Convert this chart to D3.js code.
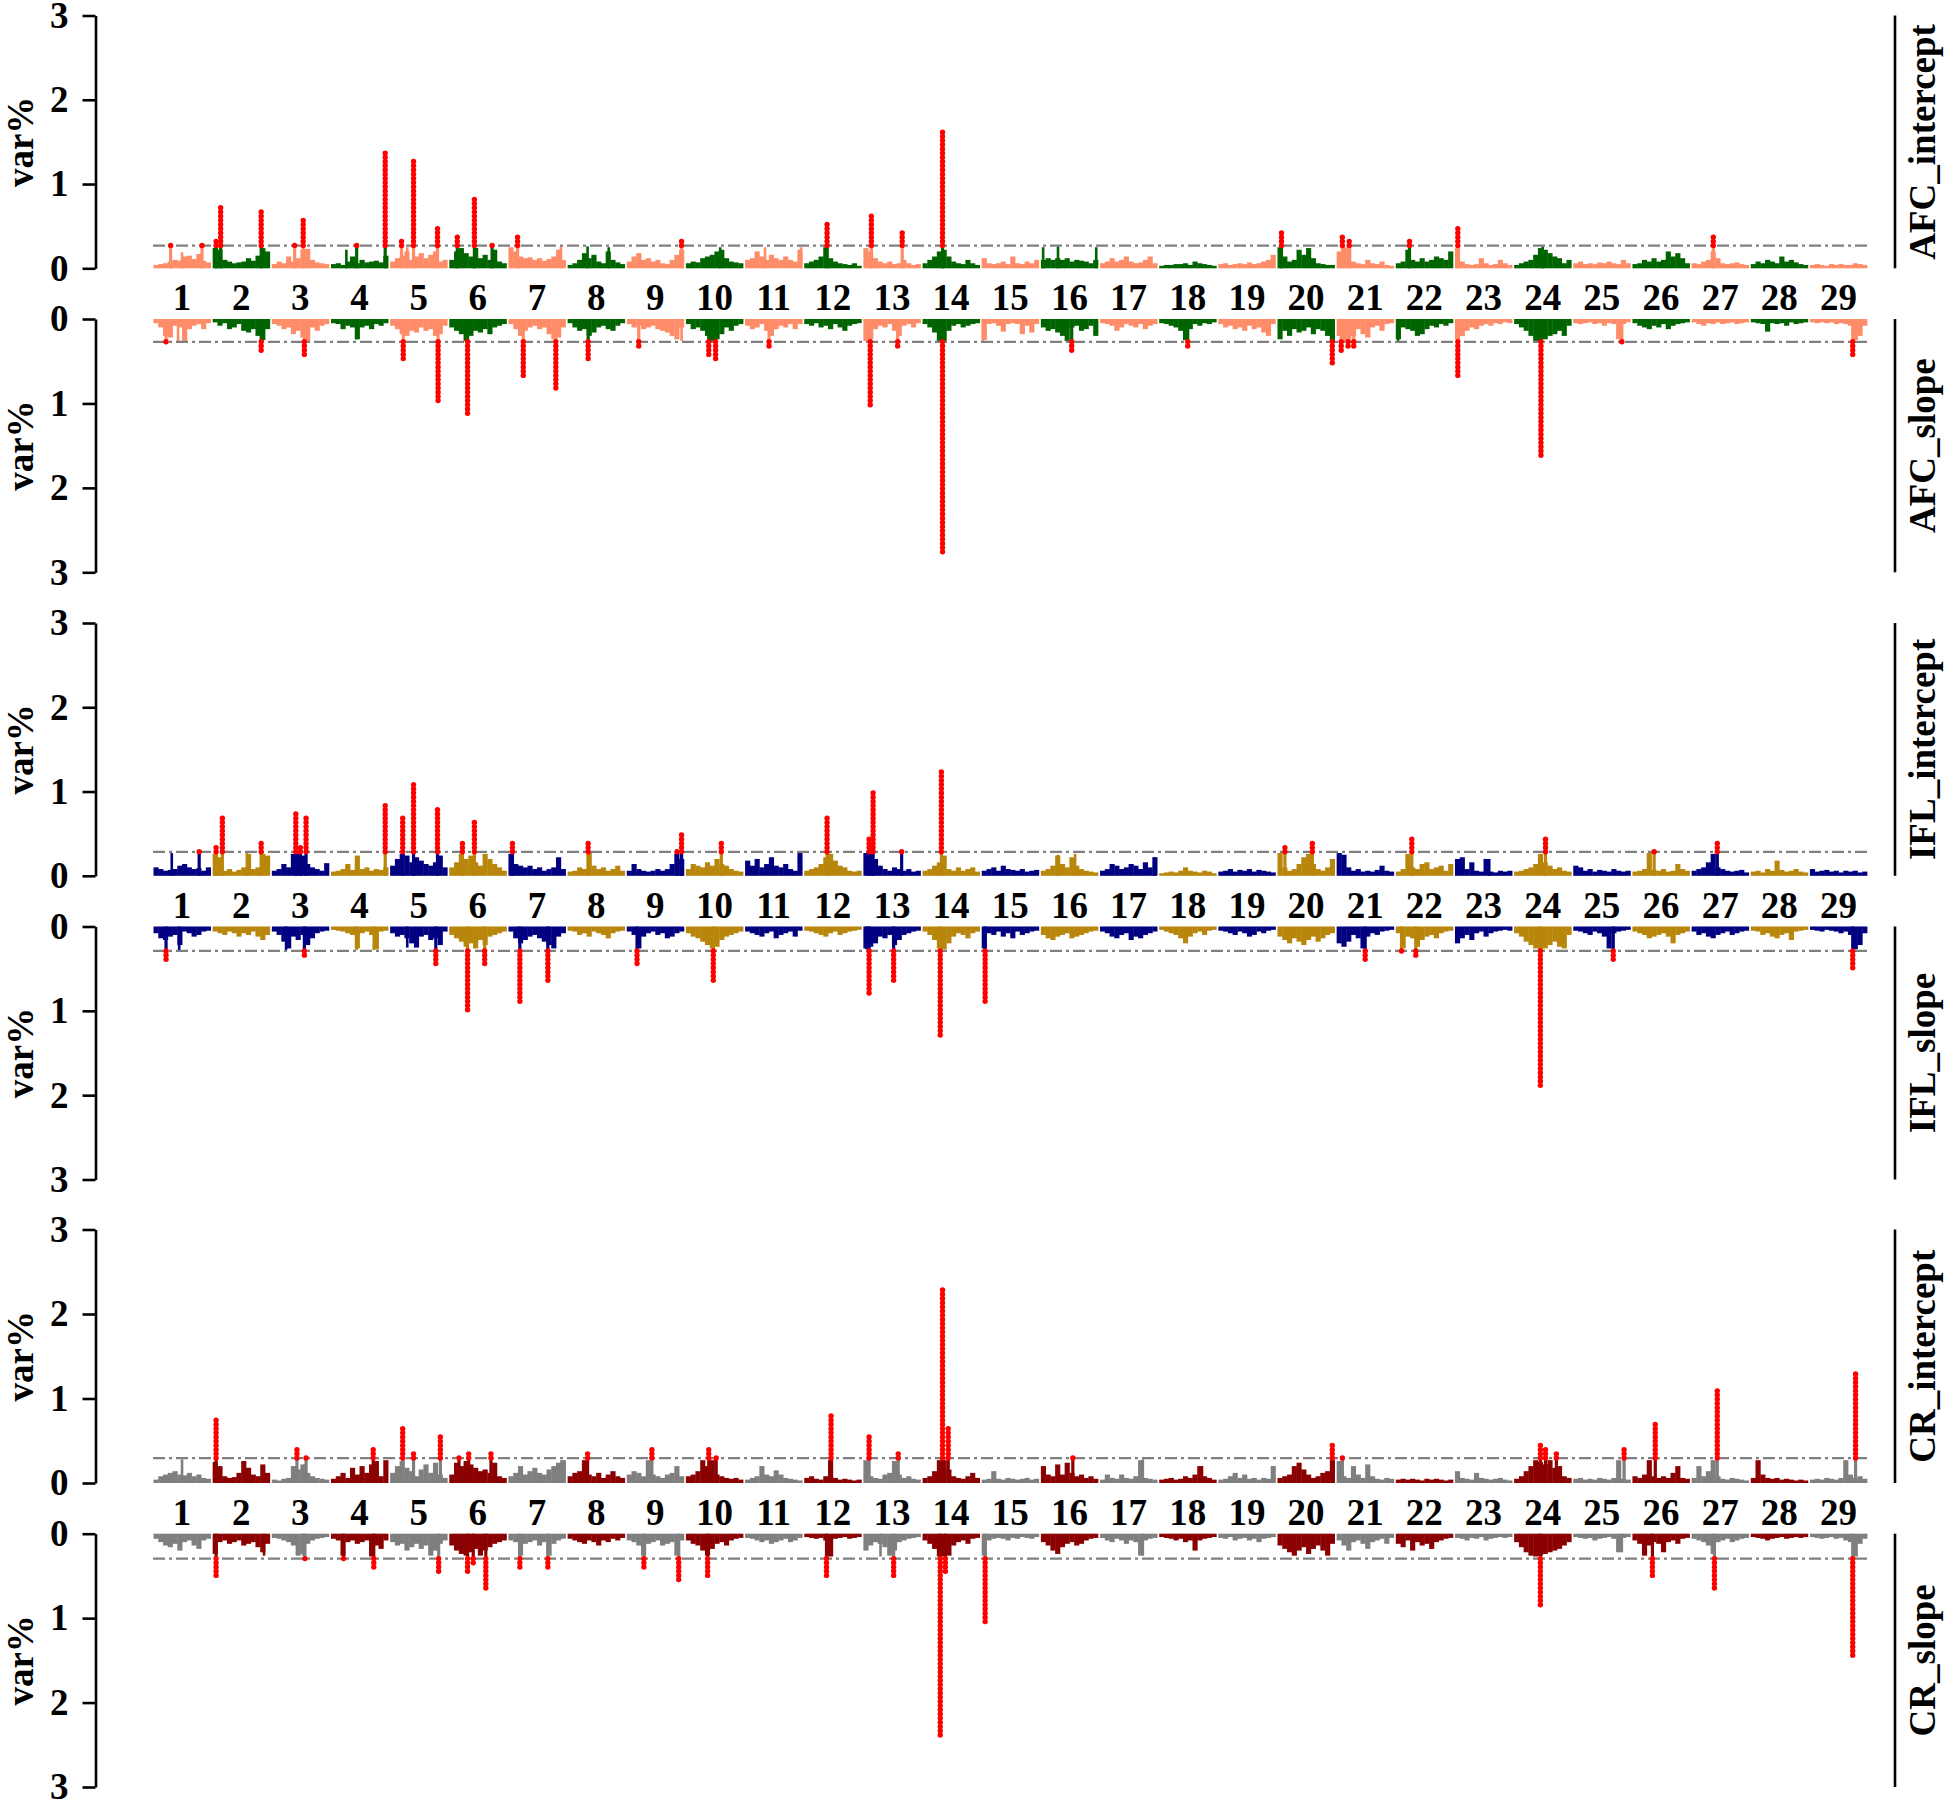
<!DOCTYPE html>
<html><head><meta charset="utf-8">
<script src="https://cdn.jsdelivr.net/npm/d3@7"></script>
<style>
body{margin:0;background:#fff}
text{font-family:"Liberation Serif","Times New Roman",serif;font-weight:bold;fill:#000}
</style></head>
<body><svg id="c" width="1946" height="1802"></svg>
<script>
// ---------------- DATA ----------------
const chromosomes = ["1","2","3","4","5","6","7","8","9","10","11","12","13","14","15","16","17","18","19","20","21","22","23","24","25","26","27","28","29"];
const yTicks = [0,1,2,3];
const panelNames = ["AFC_intercept","AFC_slope","IFL_intercept","IFL_slope","CR_intercept","CR_slope"];
const thresholds = [0.27,0.27,0.285,0.29,0.295,0.295];
const oddColors  = ["#FF8C69","#FF8C69","#000080","#000080","#7F7F7F","#7F7F7F"];
const evenColors = ["#006400","#006400","#B8860B","#B8860B","#8B0000","#8B0000"];

// window profiles per chromosome (12 windows each), var% in hundredths
const afcInterceptProfile = [
[4,5,6,8,10,9,14,15,11,17,9,7],[24,22,10,8,6,7,8,12,9,15,24,20],[5,8,6,14,8,12,22,23,10,7,6,5],[5,6,4,8,14,6,10,7,8,9,7,15],
[8,12,15,20,10,14,18,12,16,20,8,10],[10,20,24,18,14,24,12,16,10,22,8,6],[25,20,14,12,13,10,12,9,11,14,22,10],[4,6,10,18,12,16,8,6,20,10,7,5],
[8,14,18,10,12,8,10,6,5,10,16,22],[6,8,7,12,14,16,20,22,12,8,7,6],[10,12,20,14,10,16,12,10,14,10,8,22],[6,8,10,14,25,12,8,6,5,4,6,3],
[24,20,12,8,6,8,5,6,10,6,4,5],[6,10,14,20,22,14,8,6,5,10,6,4],[12,6,5,6,8,5,14,6,5,8,6,10],[10,12,10,12,10,12,8,10,9,8,6,10],
[6,8,12,8,10,14,8,6,7,10,14,6],[3,4,4,5,5,6,4,8,6,5,4,3],[5,6,4,5,6,5,7,5,6,8,10,16],[25,14,8,10,22,16,24,12,6,5,4,4],
[20,25,24,8,6,5,10,6,5,8,4,3],[6,8,22,10,8,12,8,10,14,12,10,20],[24,8,5,4,5,12,6,4,5,10,6,4],[4,6,8,10,16,24,22,18,14,12,6,10],
[6,8,5,6,5,7,6,8,6,5,10,6],[5,6,10,8,12,8,10,20,14,18,12,6],[6,5,8,10,20,12,6,5,6,7,5,4],[5,8,6,10,8,6,14,8,10,7,5,4],[4,5,4,3,5,4,5,4,4,6,5,4]];
const afcSlopeProfile = [
[5,10,20,22,8,10,26,12,8,6,12,5],[4,8,5,12,10,6,14,16,12,20,25,12],[6,8,12,10,18,14,22,26,10,14,8,6],[5,6,12,8,10,24,10,8,12,6,8,5],
[8,12,18,20,14,16,10,14,12,20,18,8],[10,14,18,26,20,14,16,12,18,10,8,6],[6,12,20,14,10,8,12,10,18,24,22,10],[5,10,14,12,20,16,10,8,12,14,8,5],
[6,10,8,12,10,8,12,14,16,20,24,10],[6,12,10,14,20,26,24,18,10,14,8,6],[8,12,10,6,14,20,12,8,10,6,12,6],[6,8,5,10,8,12,6,10,14,8,6,5],
[26,24,12,8,10,6,14,20,8,6,10,5],[6,10,16,26,26,14,8,6,10,8,6,5],[25,6,5,8,15,6,5,6,18,8,16,6],[10,14,12,16,20,26,10,8,14,12,8,20],
[5,6,8,14,10,6,8,10,6,12,8,6],[5,6,8,10,14,25,12,6,8,5,6,4],[6,10,8,12,10,14,8,12,10,16,20,6],[24,14,20,12,16,14,10,18,12,14,20,26],
[20,26,24,20,12,18,22,10,8,14,6,5],[24,10,12,14,20,18,12,8,10,6,8,5],[24,20,14,10,12,8,6,8,5,6,4,5],[6,10,14,20,26,26,24,20,18,14,20,8],
[5,6,5,4,6,5,8,5,6,24,6,4],[5,8,10,12,8,10,6,12,8,6,5,4],[4,6,8,5,6,4,6,5,4,6,5,4],[4,5,6,15,5,6,5,8,4,6,5,4],[4,5,4,5,4,6,5,6,8,25,20,8]];
const iflInterceptProfile = [
[10,8,6,7,8,12,14,10,8,9,6,10],[26,22,6,8,5,7,10,26,8,10,26,24],[6,8,14,10,26,26,24,14,10,8,6,15],[5,6,8,14,7,24,8,10,6,8,7,10],
[12,20,26,24,16,22,18,14,12,16,24,10],[10,16,26,20,24,16,12,26,20,14,10,6],[26,14,12,10,12,8,10,6,8,10,22,8],[5,6,10,8,27,12,8,10,6,8,12,6],
[6,14,8,6,5,6,8,6,8,14,26,20],[8,14,12,10,16,12,20,14,12,8,6,5],[18,12,20,10,14,22,12,10,14,8,6,27],[6,8,10,14,22,26,18,12,10,6,5,6],
[27,26,20,12,8,6,10,8,6,8,5,6],[6,8,12,16,24,8,6,10,6,8,10,5],[6,8,10,6,12,8,7,6,8,5,6,7],[6,8,12,24,14,10,22,12,8,6,5,4],
[6,8,14,12,8,10,14,12,8,16,10,22],[3,4,5,4,6,10,6,5,4,6,5,3],[5,6,8,5,7,6,8,5,7,6,5,4],[27,10,6,8,14,22,26,14,8,6,10,20],
[27,25,10,6,8,5,6,5,7,12,6,5],[5,8,26,10,8,14,16,8,10,12,6,14],[20,22,8,16,6,5,20,5,4,6,5,6],[5,6,8,10,14,26,16,12,8,10,6,5],
[12,10,6,8,5,7,6,5,8,6,5,6],[5,6,8,27,7,6,8,5,6,14,8,6],[6,8,10,16,26,10,8,6,5,6,7,4],[5,6,4,8,6,18,7,5,6,8,5,4],[8,5,6,7,5,6,4,6,5,6,4,5]];
const iflSlopeProfile = [
[8,14,16,12,10,22,6,8,12,10,6,5],[6,8,10,6,8,12,8,10,6,12,16,10],[6,10,18,26,12,16,10,22,14,8,6,5],[4,5,6,8,10,26,8,6,10,27,6,5],
[8,12,10,14,20,25,12,10,16,14,22,6],[10,14,18,24,20,26,16,22,12,10,8,6],[6,14,20,16,12,10,14,18,22,26,12,8],[5,6,10,8,12,6,8,10,14,8,6,5],
[6,10,26,12,8,6,10,8,14,12,8,6],[8,12,14,18,22,26,24,16,12,10,8,6],[6,8,10,12,8,6,14,10,8,6,12,5],[5,6,8,10,12,8,6,10,8,6,5,4],
[26,24,20,12,14,10,22,16,10,8,6,5],[6,10,16,26,27,20,12,8,10,14,8,6],[26,8,10,6,12,8,14,6,10,8,6,5],[10,14,16,12,10,8,14,12,10,8,6,5],
[6,8,12,14,10,8,16,12,14,10,8,6],[4,6,8,10,14,20,12,8,6,10,5,4],[5,6,8,10,6,8,12,10,6,8,5,4],[12,16,20,14,18,22,16,12,18,14,10,8],
[20,24,18,10,14,26,12,8,10,6,5,4],[8,26,12,14,24,16,12,10,14,8,6,5],[20,14,10,16,8,6,12,8,6,5,4,5],[8,12,18,22,26,27,26,22,18,24,26,10],
[5,6,8,10,6,8,12,26,8,6,5,4],[6,8,10,14,12,10,8,12,20,10,8,6],[6,10,8,12,14,10,8,6,10,8,6,5],[5,6,10,8,12,14,10,8,16,6,5,4],[4,5,6,4,5,6,8,6,10,27,22,8]];
const crInterceptProfile = [
[4,8,10,12,14,10,9,12,8,10,6,5],[25,20,8,6,7,12,26,18,10,8,22,12],[4,3,5,6,20,16,22,12,8,6,5,4],[5,8,12,6,18,10,20,12,22,26,8,27],
[12,20,26,18,14,8,16,22,12,24,10,6],[10,24,20,26,22,18,14,16,12,24,8,6],[8,12,20,10,14,18,12,10,16,20,24,27],[8,12,14,27,10,8,12,6,10,14,8,6],
[10,14,12,8,27,10,8,6,10,12,20,8],[8,10,14,27,20,27,10,8,6,5,6,4],[4,6,8,20,10,8,15,10,6,5,4,3],[6,8,5,4,8,27,6,4,5,4,3,4],
[27,8,6,5,10,12,26,10,6,8,5,4],[6,8,14,27,27,16,8,6,5,8,12,6],[4,5,14,5,4,6,5,4,5,6,4,5],[20,10,8,22,10,24,12,8,10,6,8,5],
[4,10,6,5,10,6,5,8,27,6,5,4],[4,5,6,4,5,8,6,10,20,8,6,4],[4,5,8,12,6,10,5,6,4,6,5,20],[6,8,10,20,24,16,10,6,8,12,14,27],
[26,8,6,20,10,6,22,8,5,4,6,5],[4,5,4,5,4,3,5,4,5,4,3,4],[14,6,5,4,12,6,5,4,5,6,4,3],[5,8,14,20,27,25,22,27,18,20,8,6],
[5,6,4,5,4,6,5,4,6,27,5,4],[8,6,10,27,8,6,8,6,12,20,6,5],[6,20,8,14,27,8,5,4,6,5,4,3],[6,27,10,6,5,6,4,5,4,3,4,3],[4,5,4,6,5,4,6,27,10,6,8,5]];
const crSlopeProfile = [
[6,10,14,16,12,20,10,8,14,18,8,6],[24,10,8,12,10,8,14,12,10,16,22,12],[5,6,8,10,14,26,24,12,8,6,5,4],[6,8,26,10,8,12,10,8,27,14,18,8],
[10,14,12,20,16,12,18,14,26,20,12,8],[14,20,24,26,22,18,26,20,16,12,10,8],[8,10,26,12,10,8,14,10,26,12,8,6],[6,8,10,12,8,10,14,8,10,6,8,5],
[8,10,14,26,12,10,8,14,12,10,26,8],[8,12,14,20,26,18,12,10,14,8,6,5],[5,6,8,10,8,12,10,8,6,10,8,5],[4,5,6,5,8,27,6,5,4,6,5,4],
[20,14,10,12,16,26,20,10,8,6,5,4],[8,12,18,27,27,26,14,10,8,12,6,5],[26,8,6,5,6,8,5,6,4,5,6,4],[10,14,20,24,16,12,10,14,12,8,6,5],
[5,8,10,6,8,12,8,10,26,8,6,5],[4,5,6,8,6,10,8,20,8,6,5,4],[5,6,4,8,6,5,8,6,10,6,5,4],[14,18,22,26,20,16,24,18,14,20,26,12],
[8,14,20,10,8,12,18,10,8,6,12,5],[12,16,8,20,10,14,12,18,10,8,6,5],[5,6,8,5,6,4,8,6,5,4,5,4],[10,16,22,26,27,26,24,22,20,18,14,10],
[4,5,6,5,8,6,5,4,6,22,5,4],[8,12,26,14,10,12,22,10,8,12,6,5],[6,8,10,14,24,10,8,6,10,8,6,5],[4,5,6,8,6,5,4,6,5,4,5,4],[4,5,6,5,4,6,5,8,10,27,12,6]];

// narrow background-colour spikes: [chromosome, position within chromosome 0-1, var% in hundredths]
const afcInterceptSpikes = [[1,0.3,26],[1,0.5,19],[4,0.27,22],[5,0.3,25],[7,0.92,26],[8,0.35,26],[8,0.72,25],[10,0.6,25],[11,0.35,25],[11,0.98,25],[16,0.04,25],[16,0.3,26],[16,0.97,25],[24,0.5,26]];
const afcSlopeSpikes = [[1,0.43,27],[4,0.45,24],[9,0.96,26],[15,0.02,26],[22,0.04,26]];
const iflInterceptSpikes = [[1,0.32,27],[2,0.6,27],[16,0.3,25],[16,0.6,26],[17,0.95,22],[23,0.6,20]];
const iflSlopeSpikes = [[1,0.45,28],[3,0.25,28],[4,0.45,28],[4,0.75,28],[5,0.3,25],[13,0.05,27]];
const crInterceptSpikes = [[1,0.5,28],[17,0.75,28],[18,0.75,20],[19,0.95,20],[7,0.93,27]];
const crSlopeSpikes = [[2,0.9,26],[3,0.55,26],[13,0.3,27],[17,0.75,26],[25,0.85,22]];

// significant windows (red): [chromosome, position 0-1, highest var%]
const afcInterceptPeaks = [[1,0.3,0.28],[1,0.85,0.31],[2,0.06,0.33],[2,0.14,0.72],[2,0.85,0.67],[3,0.4,0.3],[3,0.55,0.58],[4,0.45,0.3],[4,0.95,1.37],[5,0.2,0.35],[5,0.41,1.27],[5,0.83,0.5],[6,0.14,0.37],[6,0.44,0.85],[6,0.75,0.29],[7,0.16,0.39],[9,0.96,0.32],[12,0.4,0.55],[13,0.14,0.66],[13,0.68,0.43],[14,0.35,1.65],[20,0.07,0.46],[21,0.1,0.38],[21,0.22,0.33],[22,0.24,0.34],[23,0.05,0.48],[27,0.38,0.39]];
const afcSlopePeaks = [[1,0.22,0.3],[2,0.85,0.38],[3,0.57,0.42],[5,0.23,0.47],[5,0.84,1.0],[6,0.32,1.15],[7,0.26,0.67],[7,0.83,0.85],[8,0.36,0.48],[9,0.21,0.35],[10,0.4,0.42],[10,0.52,0.5],[11,0.42,0.34],[13,0.12,1.02],[13,0.6,0.34],[14,0.35,2.78],[16,0.54,0.38],[18,0.5,0.33],[20,0.96,0.56],[21,0.08,0.4],[21,0.2,0.36],[21,0.3,0.32],[23,0.05,0.67],[24,0.47,1.62],[25,0.85,0.3],[29,0.75,0.44]];
const iflInterceptPeaks = [[1,0.8,0.33],[2,0.06,0.36],[2,0.17,0.7],[2,0.85,0.4],[3,0.42,0.78],[3,0.5,0.38],[3,0.6,0.71],[4,0.95,0.85],[5,0.22,0.69],[5,0.41,1.12],[5,0.83,0.79],[6,0.23,0.43],[6,0.44,0.65],[7,0.07,0.42],[8,0.36,0.43],[9,0.88,0.32],[9,0.96,0.5],[10,0.62,0.41],[12,0.4,0.7],[13,0.1,0.48],[13,0.17,1.0],[13,0.67,0.3],[14,0.33,1.27],[20,0.13,0.36],[20,0.61,0.42],[22,0.28,0.46],[24,0.55,0.47],[26,0.38,0.31],[27,0.45,0.42]];
const iflSlopePeaks = [[1,0.22,0.43],[3,0.57,0.37],[5,0.8,0.47],[6,0.32,1.03],[6,0.62,0.44],[7,0.2,0.9],[7,0.69,0.68],[9,0.18,0.46],[10,0.48,0.68],[13,0.1,0.8],[13,0.53,0.65],[14,0.31,1.31],[15,0.06,0.93],[21,0.5,0.42],[22,0.1,0.32],[22,0.35,0.34],[24,0.46,1.9],[25,0.7,0.4],[29,0.75,0.52]];
const crInterceptPeaks = [[2,0.06,0.77],[3,0.44,0.4],[3,0.6,0.34],[4,0.74,0.41],[5,0.22,0.65],[5,0.41,0.37],[5,0.88,0.57],[6,0.17,0.34],[6,0.34,0.39],[6,0.73,0.36],[8,0.35,0.39],[9,0.44,0.44],[10,0.4,0.43],[10,0.53,0.33],[12,0.47,0.8],[13,0.1,0.55],[13,0.61,0.38],[14,0.35,2.3],[14,0.45,0.67],[16,0.56,0.33],[20,0.96,0.45],[21,0.1,0.3],[24,0.46,0.49],[24,0.55,0.4],[24,0.74,0.35],[25,0.89,0.42],[26,0.4,0.72],[27,0.45,1.13],[29,0.8,1.3]];
const crSlopePeaks = [[2,0.06,0.52],[3,0.58,0.32],[4,0.22,0.34],[4,0.75,0.4],[5,0.85,0.46],[6,0.32,0.47],[6,0.42,0.37],[6,0.64,0.69],[7,0.2,0.4],[7,0.69,0.41],[9,0.3,0.41],[9,0.91,0.55],[10,0.38,0.52],[12,0.39,0.54],[13,0.53,0.54],[14,0.31,2.39],[14,0.4,0.45],[15,0.06,1.05],[24,0.46,0.85],[26,0.35,0.52],[27,0.4,0.69],[29,0.75,1.44]];

const profiles = [afcInterceptProfile, afcSlopeProfile, iflInterceptProfile, iflSlopeProfile, crInterceptProfile, crSlopeProfile];
const spikes = [afcInterceptSpikes, afcSlopeSpikes, iflInterceptSpikes, iflSlopeSpikes, crInterceptSpikes, crSlopeSpikes];
const peaks = [afcInterceptPeaks, afcSlopePeaks, iflInterceptPeaks, iflSlopePeaks, crInterceptPeaks, crSlopePeaks];

// ---------------- LAYOUT ----------------
const svg = d3.select("#c");
const panelY = [[268.3,15.5],[319,572.3],[875.8,623],[926.5,1179.5],[1483,1229.5],[1533.7,1787]];
const x = d3.scaleBand().domain(chromosomes).range([153.5,1867]).paddingInner(0.035).paddingOuter(0);
const bw = x.bandwidth();
const FONT = '"Liberation Serif","Times New Roman",serif';
const LABEL_SIZE = 37;

panelNames.forEach((name, p) => {
  const [y0, y3] = panelY[p];
  const y = d3.scaleLinear().domain([0,3]).range([y0,y3]);
  const g = svg.append("g");
  const colorOf = ci => (ci % 2 === 1 ? oddColors[p] : evenColors[p]);
  const thr = thresholds[p];

  // window bars
  profiles[p].forEach((vals, i) => {
    const chr = chromosomes[i];
    const sw = bw / vals.length;
    g.selectAll(null).data(vals).enter().append("rect")
      .attr("x", (v, j) => x(chr) + j * sw)
      .attr("width", sw + 0.4)
      .attr("y", v => Math.min(y(0), y(v/100)))
      .attr("height", v => Math.abs(y(v/100) - y(0)))
      .attr("fill", colorOf(i+1));
  });
  // background spikes
  g.selectAll(null).data(spikes[p]).enter().append("rect")
    .attr("x", d => x(chromosomes[d[0]-1]) + d[1]*bw - 1.3)
    .attr("width", 2.6)
    .attr("y", d => Math.min(y(0), y(d[2]/100)))
    .attr("height", d => Math.abs(y(d[2]/100) - y(0)))
    .attr("fill", d => colorOf(d[0]));
  // bars below red peaks
  g.selectAll(null).data(peaks[p]).enter().append("rect")
    .attr("x", d => x(chromosomes[d[0]-1]) + d[1]*bw - 1.6)
    .attr("width", 3.2)
    .attr("y", d => Math.min(y(0), y(thr)))
    .attr("height", Math.abs(y(thr) - y(0)))
    .attr("fill", d => colorOf(d[0]));
  // threshold
  g.append("line")
    .attr("x1", 153).attr("x2", 1867)
    .attr("y1", y(thr)).attr("y2", y(thr))
    .attr("stroke", "#808080").attr("stroke-width", 2.2)
    .attr("stroke-dasharray", "12,4,3,4");
  // red significant points
  g.selectAll(null).data(peaks[p]).enter().append("line")
    .attr("x1", d => x(chromosomes[d[0]-1]) + d[1]*bw)
    .attr("x2", d => x(chromosomes[d[0]-1]) + d[1]*bw)
    .attr("y1", y(thr))
    .attr("y2", d => y(d[2]))
    .attr("stroke", "#FF0000").attr("stroke-width", 5.4)
    .attr("stroke-linecap", "round")
    .attr("stroke-dasharray", "0,4.2");

  // y axis
  const ax = svg.append("g").attr("transform", "translate(95.5,0)")
    .call(d3.axisLeft(y).tickValues(yTicks).tickSize(13).tickSizeOuter(0).tickPadding(14).tickFormat(d3.format("d")));
  ax.selectAll("path,line").attr("stroke", "#000").attr("stroke-width", 2.6);
  ax.selectAll("text").attr("font-size", LABEL_SIZE).attr("font-family", FONT).attr("font-weight", "bold").attr("fill", "#000");

  // var% label
  const cy = (y0 + y3) / 2;
  svg.append("text").attr("transform", `translate(33,${cy}) rotate(-90)`)
    .attr("text-anchor", "middle").attr("font-size", 37).text("var%");

  // right strip label
  svg.append("line").attr("x1", 1895).attr("x2", 1895)
    .attr("y1", Math.min(y0,y3)).attr("y2", Math.max(y0,y3))
    .attr("stroke", "#000").attr("stroke-width", 2.6);
  svg.append("text").attr("transform", `translate(1935,${cy}) rotate(-90)`)
    .attr("text-anchor", "middle").attr("font-size", 37).text(name);

  // chromosome labels below intercept panels
  if (p % 2 === 0) {
    svg.selectAll(null).data(chromosomes).enter().append("text")
      .attr("x", d => x(d) + bw/2).attr("y", y0 + 42)
      .attr("text-anchor", "middle").attr("font-size", LABEL_SIZE).text(d => d);
  }
});
</script>
</body></html>
